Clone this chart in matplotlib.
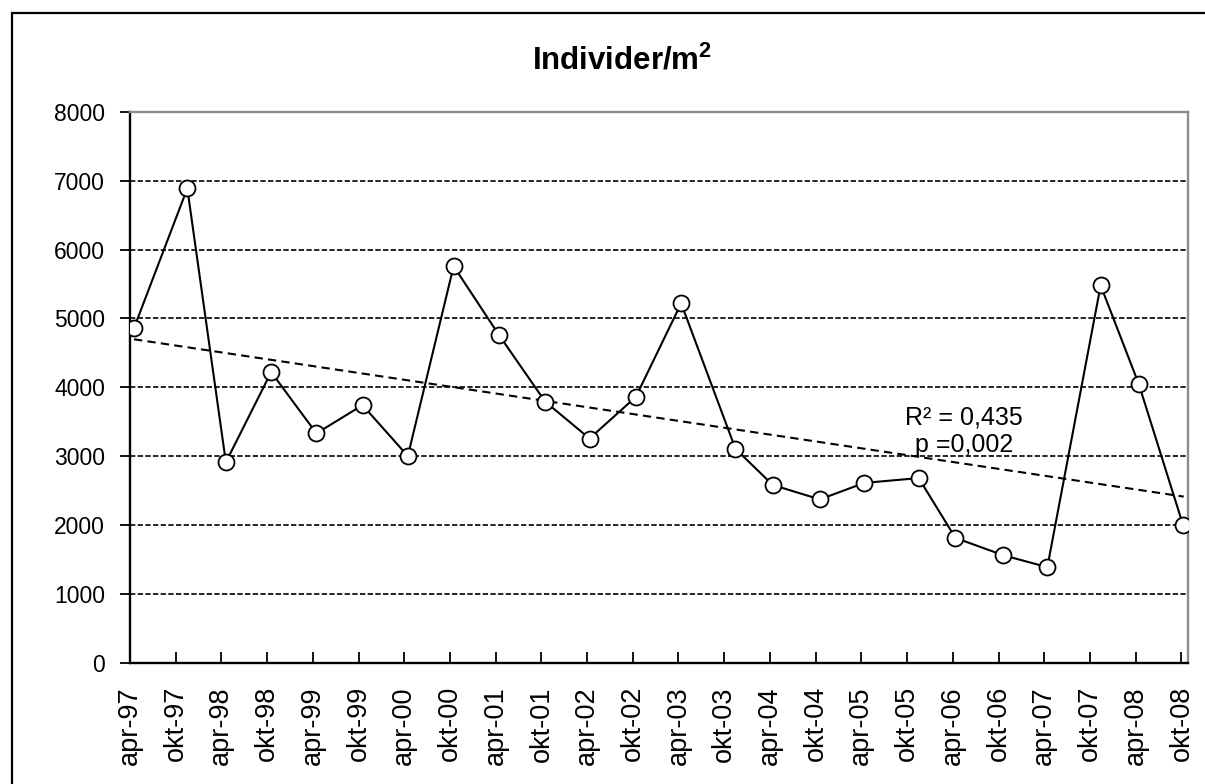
import matplotlib
matplotlib.use("Agg")
import matplotlib.pyplot as plt
import matplotlib.dates as mdates
import matplotlib.patches as patches
import numpy as np
import pandas as pd

plt.rcParams['font.family'] = ['Liberation Sans', 'DejaVu Sans']
plt.rcParams['mathtext.fontset'] = 'custom'
plt.rcParams['mathtext.rm'] = 'Liberation Sans'
plt.rcParams['mathtext.bf'] = 'Liberation Sans:bold'

# Sampling dates and abundance (individuals per m2)
sample_dates = ['1997-04-17', '1997-11-16', '1998-04-19', '1998-10-17', '1999-04-16',
                '1999-10-17', '2000-04-15', '2000-10-15', '2001-04-14', '2001-10-16',
                '2002-04-11', '2002-10-13', '2003-04-12', '2003-11-15', '2004-04-12',
                '2004-10-17', '2005-04-13', '2005-11-16', '2006-04-12', '2006-10-19',
                '2007-04-14', '2007-11-13', '2008-04-14', '2008-10-07']
individer = [4860, 6890, 2910, 4220, 3330, 3740, 3000, 5760, 4760, 3790,
             3255, 3860, 5220, 3105, 2580, 2370, 2610, 2680, 1810, 1560,
             1385, 5480, 4040, 2000]

tick_dates = pd.date_range('1997-04-01', '2008-10-01', freq='6MS')
tick_labels = ['apr-97', 'okt-97', 'apr-98', 'okt-98', 'apr-99', 'okt-99', 'apr-00', 'okt-00',
               'apr-01', 'okt-01', 'apr-02', 'okt-02', 'apr-03', 'okt-03', 'apr-04', 'okt-04',
               'apr-05', 'okt-05', 'apr-06', 'okt-06', 'apr-07', 'okt-07', 'apr-08', 'okt-08']
y_ticks = [0, 1000, 2000, 3000, 4000, 5000, 6000, 7000, 8000]

x = pd.to_datetime(sample_dates)
xn = mdates.date2num(x)

fig = plt.figure(figsize=(12.05, 7.84), dpi=100)
ax = fig.add_axes([130/1205, 1 - 662.5/784, (1188 - 130)/1205, (662.5 - 112)/784])

# horizontal dashed gridlines
for yv in y_ticks[1:-1]:
    ax.axhline(yv, color='black', lw=1.2, dashes=(3.2, 1.4), zorder=1)

# linear trendline
k, m = np.polyfit(xn, individer, 1)
tx = np.array([xn[0], xn[-1] + 3])
ax.plot(tx, k*tx + m, color='black', lw=1.5, dashes=(4, 2.5), zorder=2)

ax.plot(xn, individer, color='black', lw=1.5, marker='o', markersize=11.5,
        markerfacecolor='white', markeredgecolor='black', markeredgewidth=1.3, zorder=3)

ax.set_ylim(0, 8000)
ax.set_xlim(mdates.date2num(pd.Timestamp('1997-04-01')), mdates.date2num(pd.Timestamp('2008-10-27')))
ax.set_yticks(y_ticks)
ax.set_xticks(mdates.date2num(tick_dates))
ax.set_xticklabels(tick_labels, rotation=90, fontsize=19.5)
ax.tick_params(axis='y', direction='out', length=7, width=1.3, labelsize=16.5, pad=11)
ax.tick_params(axis='x', direction='in', length=8, width=1.3, pad=17)

for s in ['left', 'bottom']:
    ax.spines[s].set_color('black')
    ax.spines[s].set_linewidth(1.7)
for s in ['top', 'right']:
    ax.spines[s].set_color('#8c8c8c')
    ax.spines[s].set_linewidth(1.7)

fig.text(622/1205, 1 - 61/784, r'Individer/m$^{\mathbf{2}}$', fontsize=22.5, fontweight='bold',
         ha='center', va='center')

ax.text(0.788, 0.42, 'R² = 0,435\np =0,002', transform=ax.transAxes, fontsize=18,
        ha='center', va='center', linespacing=1.15, zorder=4)

# outer frame of the chart
fig.patches.append(patches.Rectangle((12/1205, -0.02), 1.05, 1 - 13/784 + 0.02,
                                     transform=fig.transFigure, fill=False,
                                     edgecolor='black', lw=1.6, clip_on=False))

fig.savefig('out.png', dpi=100)
